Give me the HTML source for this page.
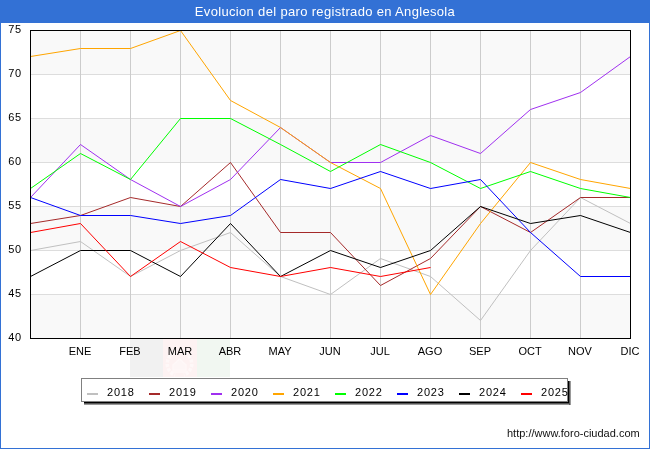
<!DOCTYPE html>
<html><head><meta charset="utf-8">
<style>
html,body{margin:0;padding:0;}
body{width:650px;height:450px;position:relative;overflow:hidden;background:#fff;font-family:"Liberation Sans",sans-serif;-webkit-font-smoothing:antialiased;}
.yl,.xl,.lgt,.foot,.tt{will-change:transform;}
.frame{position:absolute;left:0;top:0;width:648px;height:448px;border:1px solid #3371d5;border-top:0;}
.title{position:absolute;left:0;top:0;width:650px;height:22.6px;background:#3371d5;}
.tt{position:absolute;left:0;top:1px;width:650px;color:#fff;font-size:13px;line-height:22px;text-align:center;letter-spacing:0.33px;}
svg{position:absolute;left:0;top:0;}
.yl{position:absolute;left:0;width:22px;text-align:right;font-size:11px;line-height:14px;color:#000;letter-spacing:0.8px;}
.xl{position:absolute;top:344px;width:50px;text-align:center;font-size:11px;line-height:14px;color:#000;}
.flag{position:absolute;left:130px;top:339px;width:100px;height:38px;}
.legend{position:absolute;left:81px;top:378px;width:485px;height:22px;border:1px solid #808080;background:#fff;}
.lsh{position:absolute;left:84px;top:381px;width:487px;height:24px;background:linear-gradient(#000,#000) 0 0/485px 22px no-repeat, linear-gradient(90deg,#333,#bbb) 485px 0/2px 24px no-repeat, linear-gradient(180deg,#333,#bbb) 0 22px/487px 2px no-repeat;}
.lgl{position:absolute;top:393px;width:11px;height:2px;}
.lgt{position:absolute;top:386px;font-size:11px;line-height:12px;color:#000;letter-spacing:0.8px;}
.foot{position:absolute;left:507px;top:427px;font-size:11px;line-height:12px;color:#111;}
</style></head><body>
<div class="flag"><div style="position:absolute;left:0;top:0;width:33px;height:38px;background:#f1f1f1"></div><div style="position:absolute;left:33px;top:0;width:34px;height:38px;background:#fdf2f2"></div><div style="position:absolute;left:67px;top:0;width:33px;height:38px;background:#f1f7f1"></div><svg width="100" height="38" style="position:absolute;left:0;top:0"><path d="M44 14 A12 12 0 0 0 45 36 M55 14 A12 12 0 0 1 54 36" fill="none" stroke="#fef8f8" stroke-width="3.5" stroke-dasharray="3 1.5"/><path d="M43 31 L43 26 L49.5 20 L56 26 L56 31 Z M41 33 L58 33" fill="#fdf6f6" stroke="#fef8f8" stroke-width="1.5"/></svg></div>
<svg width="650" height="450" viewBox="0 0 650 450"><rect x="30" y="30" width="600" height="44" fill="#f9f9f9"/><rect x="30" y="74" width="600" height="44" fill="#ffffff"/><rect x="30" y="118" width="600" height="44" fill="#f9f9f9"/><rect x="30" y="162" width="600" height="44" fill="#ffffff"/><rect x="30" y="206" width="600" height="44" fill="#f9f9f9"/><rect x="30" y="250" width="600" height="44" fill="#ffffff"/><rect x="30" y="294" width="600" height="44" fill="#f9f9f9"/><line x1="30" y1="74.5" x2="630" y2="74.5" stroke="#dddddd" stroke-width="1"/><line x1="30" y1="118.5" x2="630" y2="118.5" stroke="#dddddd" stroke-width="1"/><line x1="30" y1="162.5" x2="630" y2="162.5" stroke="#dddddd" stroke-width="1"/><line x1="30" y1="206.5" x2="630" y2="206.5" stroke="#dddddd" stroke-width="1"/><line x1="30" y1="250.5" x2="630" y2="250.5" stroke="#dddddd" stroke-width="1"/><line x1="30" y1="294.5" x2="630" y2="294.5" stroke="#dddddd" stroke-width="1"/><line x1="80.5" y1="30" x2="80.5" y2="338" stroke="#cccccc" stroke-width="1"/><line x1="130.5" y1="30" x2="130.5" y2="338" stroke="#cccccc" stroke-width="1"/><line x1="180.5" y1="30" x2="180.5" y2="338" stroke="#cccccc" stroke-width="1"/><line x1="230.5" y1="30" x2="230.5" y2="338" stroke="#cccccc" stroke-width="1"/><line x1="280.5" y1="30" x2="280.5" y2="338" stroke="#cccccc" stroke-width="1"/><line x1="330.5" y1="30" x2="330.5" y2="338" stroke="#cccccc" stroke-width="1"/><line x1="380.5" y1="30" x2="380.5" y2="338" stroke="#cccccc" stroke-width="1"/><line x1="430.5" y1="30" x2="430.5" y2="338" stroke="#cccccc" stroke-width="1"/><line x1="480.5" y1="30" x2="480.5" y2="338" stroke="#cccccc" stroke-width="1"/><line x1="530.5" y1="30" x2="530.5" y2="338" stroke="#cccccc" stroke-width="1"/><line x1="580.5" y1="30" x2="580.5" y2="338" stroke="#cccccc" stroke-width="1"/><polyline points="30.5,250.5 80.5,241.5 130.5,276.5 180.5,250.5 230.5,232.5 280.5,276.5 330.5,294.5 380.5,258.5 430.5,276.5 480.5,320.5 530.5,250.5 580.5,197.5 630.5,223.5" fill="none" stroke="#c0c0c0" stroke-width="1" stroke-linejoin="miter"/><polyline points="30.5,223.5 80.5,215.5 130.5,197.5 180.5,206.5 230.5,162.5 280.5,232.5 330.5,232.5 380.5,285.5 430.5,258.5 480.5,206.5 530.5,232.5 580.5,197.5 630.5,197.5" fill="none" stroke="#a52a2a" stroke-width="1" stroke-linejoin="miter"/><polyline points="30.5,197.5 80.5,144.5 130.5,179.5 180.5,206.5 230.5,179.5 280.5,127.5 330.5,162.5 380.5,162.5 430.5,135.5 480.5,153.5 530.5,109.5 580.5,92.5 630.5,56.5" fill="none" stroke="#a030f0" stroke-width="1" stroke-linejoin="miter"/><polyline points="30.5,56.5 80.5,48.5 130.5,48.5 180.5,30.5 230.5,100.5 280.5,127.5 330.5,162.5 380.5,188.5 430.5,294.5 480.5,223.5 530.5,162.5 580.5,179.5 630.5,188.5" fill="none" stroke="#ffa500" stroke-width="1" stroke-linejoin="miter"/><polyline points="30.5,188.5 80.5,153.5 130.5,179.5 180.5,118.5 230.5,118.5 280.5,144.5 330.5,171.5 380.5,144.5 430.5,162.5 480.5,188.5 530.5,171.5 580.5,188.5 630.5,197.5" fill="none" stroke="#00ff00" stroke-width="1" stroke-linejoin="miter"/><polyline points="30.5,197.5 80.5,215.5 130.5,215.5 180.5,223.5 230.5,215.5 280.5,179.5 330.5,188.5 380.5,171.5 430.5,188.5 480.5,179.5 530.5,232.5 580.5,276.5 630.5,276.5" fill="none" stroke="#0000ff" stroke-width="1" stroke-linejoin="miter"/><polyline points="30.5,276.5 80.5,250.5 130.5,250.5 180.5,276.5 230.5,223.5 280.5,276.5 330.5,250.5 380.5,267.5 430.5,250.5 480.5,206.5 530.5,223.5 580.5,215.5 630.5,232.5" fill="none" stroke="#000000" stroke-width="1" stroke-linejoin="miter"/><polyline points="30.5,232.5 80.5,223.5 130.5,276.5 180.5,241.5 230.5,267.5 280.5,276.5 330.5,267.5 380.5,276.5 430.5,267.5" fill="none" stroke="#ff0000" stroke-width="1" stroke-linejoin="miter"/><rect x="30.5" y="30.5" width="600" height="308" fill="none" stroke="#000" stroke-width="1"/></svg>
<div class="title"></div><div class="tt">Evolucion del paro registrado en Anglesola</div>
<div class="frame"></div>
<div class="yl" style="top:22px">75</div><div class="yl" style="top:66px">70</div><div class="yl" style="top:110px">65</div><div class="yl" style="top:154px">60</div><div class="yl" style="top:198px">55</div><div class="yl" style="top:242px">50</div><div class="yl" style="top:286px">45</div><div class="yl" style="top:330px">40</div>
<div class="xl" style="left:55px">ENE</div><div class="xl" style="left:105px">FEB</div><div class="xl" style="left:155px">MAR</div><div class="xl" style="left:205px">ABR</div><div class="xl" style="left:255px">MAY</div><div class="xl" style="left:305px">JUN</div><div class="xl" style="left:355px">JUL</div><div class="xl" style="left:405px">AGO</div><div class="xl" style="left:455px">SEP</div><div class="xl" style="left:505px">OCT</div><div class="xl" style="left:555px">NOV</div><div class="xl" style="left:605px">DIC</div>
<div class="lsh"></div><div class="legend"></div>
<div class="lgl" style="left:87px;background:#c0c0c0"></div><div class="lgt" style="left:107px">2018</div><div class="lgl" style="left:149px;background:#a52a2a"></div><div class="lgt" style="left:169px">2019</div><div class="lgl" style="left:211px;background:#a030f0"></div><div class="lgt" style="left:231px">2020</div><div class="lgl" style="left:273px;background:#ffa500"></div><div class="lgt" style="left:293px">2021</div><div class="lgl" style="left:335px;background:#00ff00"></div><div class="lgt" style="left:355px">2022</div><div class="lgl" style="left:397px;background:#0000ff"></div><div class="lgt" style="left:417px">2023</div><div class="lgl" style="left:459px;background:#000000"></div><div class="lgt" style="left:479px">2024</div><div class="lgl" style="left:521px;background:#ff0000"></div><div class="lgt" style="left:541px">2025</div>
<div class="foot">http://www.foro-ciudad.com</div>
</body></html>
